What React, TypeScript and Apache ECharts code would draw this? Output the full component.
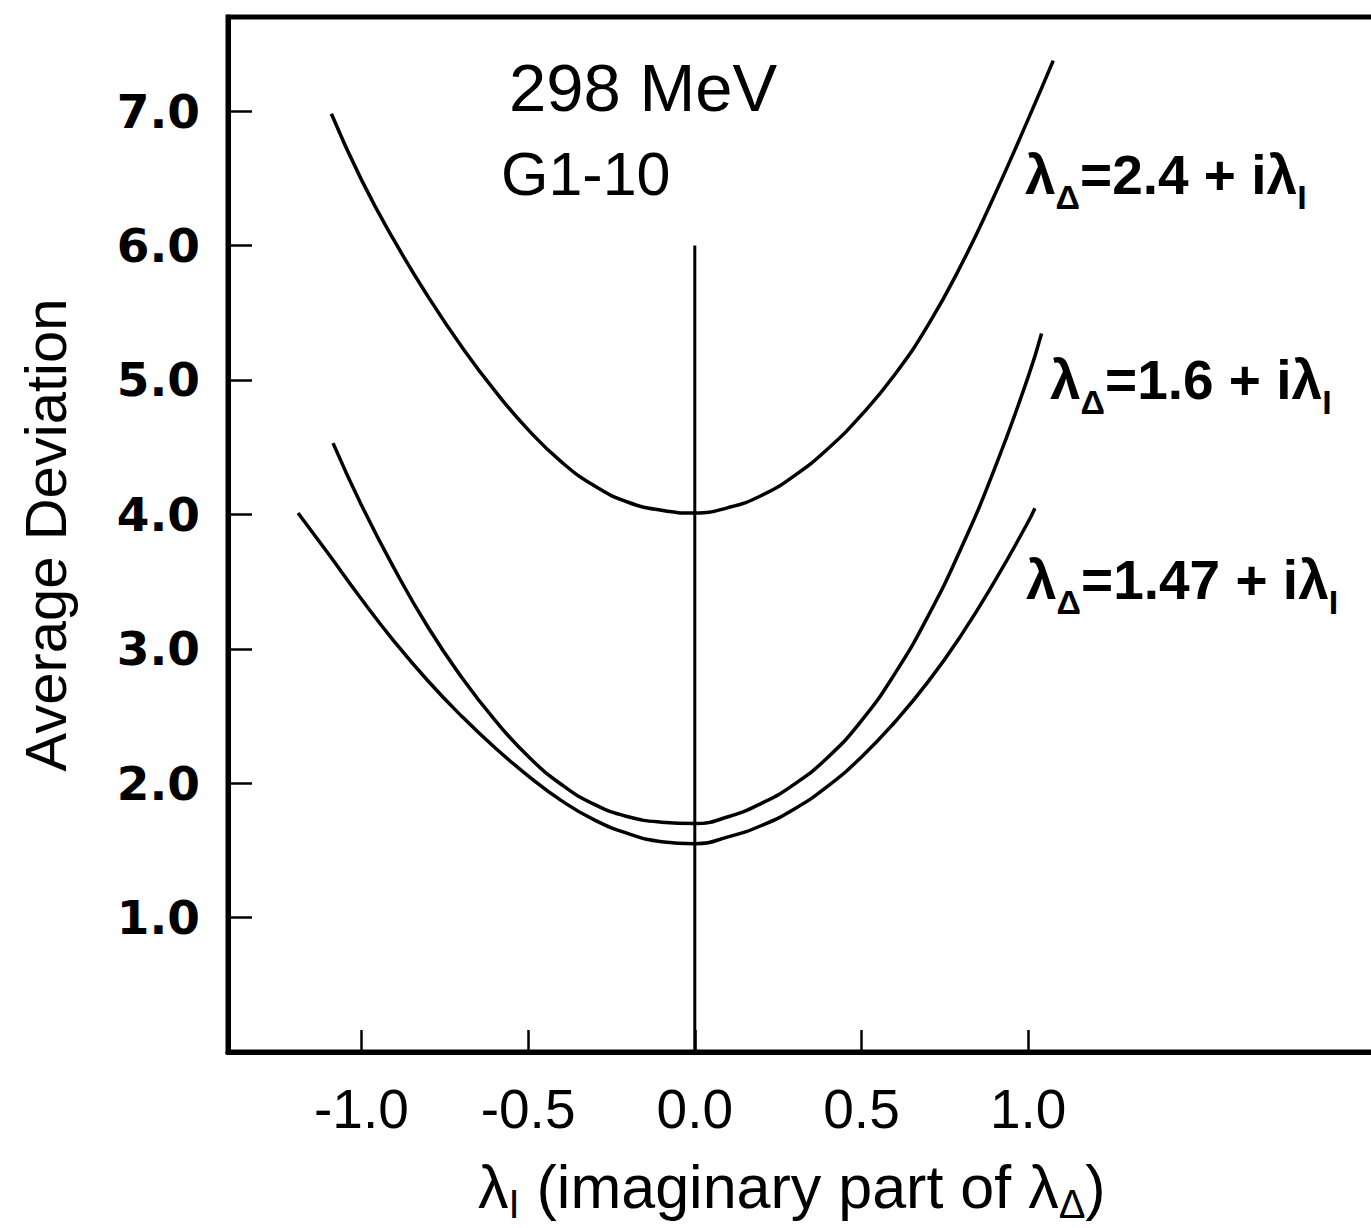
import React, { useEffect, useRef } from "react";
import * as echarts from "echarts";

// Tick values
const xTicks = [-1.0, -0.5, 0.0, 0.5, 1.0];
const yTicks = [1, 2, 3, 4, 5, 6, 7];

// λΔ = 2.4 + iλI
const lambdaI_24 = [-1.09, -1.0, -0.9, -0.8, -0.7, -0.6, -0.5, -0.4, -0.3, -0.2, -0.1, 0, 0.1, 0.2, 0.3, 0.4, 0.5, 0.6, 0.7, 0.8, 0.9, 1.0, 1.075];
const dev_24 = [6.98, 6.49, 6.03, 5.62, 5.25, 4.92, 4.63, 4.39, 4.21, 4.09, 4.03, 4.01, 4.05, 4.14, 4.29, 4.49, 4.74, 5.04, 5.41, 5.86, 6.38, 6.94, 7.375];

// λΔ = 1.6 + iλI
const lambdaI_16 = [-1.085, -1.0, -0.9, -0.8, -0.7, -0.6, -0.5, -0.4, -0.3, -0.2, -0.1, 0, 0.1, 0.2, 0.3, 0.4, 0.5, 0.6, 0.7, 0.8, 0.9, 1.0, 1.04];
const dev_16 = [4.53, 4.07, 3.59, 3.16, 2.79, 2.47, 2.2, 1.99, 1.84, 1.75, 1.71, 1.7, 1.75, 1.85, 1.995, 2.195, 2.465, 2.815, 3.245, 3.755, 4.345, 5.025, 5.345];

// λΔ = 1.47 + iλI
const lambdaI_147 = [-1.19, -1.1, -1.0, -0.9, -0.8, -0.7, -0.6, -0.5, -0.4, -0.3, -0.2, -0.1, 0, 0.1, 0.2, 0.3, 0.4, 0.5, 0.6, 0.7, 0.8, 0.9, 1.0, 1.02];
const dev_147 = [4.01, 3.71, 3.37, 3.05, 2.76, 2.5, 2.265, 2.055, 1.87, 1.725, 1.625, 1.565, 1.55, 1.6, 1.685, 1.81, 1.98, 2.195, 2.455, 2.755, 3.105, 3.505, 3.945, 4.045];

// vertical reference line at λI = 0
const zeroLineX = [0, 0];
const zeroLineY = [0, 6.0];

const pairs = (xs: number[], ys: number[]) => xs.map((x, i) => [x, ys[i]]);

const SANS = "'Liberation Sans', Arial, Helvetica, sans-serif";
const WIDE = "'DejaVu Sans', Verdana, sans-serif";

export default function App() {
  const ref = useRef<HTMLDivElement>(null);

  useEffect(() => {
    document.body.style.margin = "0";
    document.body.style.overflow = "hidden";
    const chart = echarts.init(ref.current!, null, { renderer: "svg" });

    const curveRich = {
      m: { fontSize: 55, fontWeight: "bold", fontFamily: SANS, color: "#000", lineHeight: 78, verticalAlign: "middle" },
      s: { fontSize: 34, fontWeight: "bold", fontFamily: SANS, color: "#000", lineHeight: 34, verticalAlign: "bottom" },
    };
    const curveLabel = (x: number, y: number, val: string) => ({
      type: "text",
      x,
      y,
      style: {
        text: `{m|λ}{s|Δ}{m|=${val} + iλ}{s|I}`,
        rich: curveRich,
        align: "left",
        verticalAlign: "top",
      },
    });

    const lineSeries = (name: string, xs: number[], ys: number[]) => ({
      name,
      type: "line",
      data: pairs(xs, ys),
      showSymbol: false,
      smooth: 0.5,
      lineStyle: { color: "#000", width: 3.5 },
      silent: true,
    });

    chart.setOption({
      animation: false,
      backgroundColor: "#fff",
      grid: {
        left: 228,
        top: 17,
        bottom: 176,
        right: 0,
        show: true,
        borderColor: "#000",
        borderWidth: 5,
        containLabel: false,
      },
      xAxis: {
        type: "value",
        min: -1.4,
        max: 2.1,
        splitLine: { show: false },
        axisLine: { show: true, onZero: false, lineStyle: { color: "#000", width: 5 } },
        axisTick: {
          show: true,
          inside: true,
          length: 22,
          customValues: xTicks,
          lineStyle: { color: "#000", width: 2.5 },
        },
        axisLabel: {
          show: true,
          customValues: xTicks,
          margin: 29,
          fontSize: 55,
          fontFamily: SANS,
          color: "#000",
          formatter: (v: number) => v.toFixed(1),
        },
      },
      yAxis: {
        type: "value",
        min: 0,
        max: 7.7,
        splitLine: { show: false },
        axisLine: { show: true, onZero: false, lineStyle: { color: "#000", width: 5 } },
        axisTick: {
          show: true,
          inside: true,
          length: 24,
          customValues: yTicks,
          lineStyle: { color: "#000", width: 2.5 },
        },
        axisLabel: {
          show: true,
          customValues: yTicks,
          margin: 28,
          fontSize: 47,
          fontWeight: "bold",
          fontFamily: WIDE,
          color: "#000",
          formatter: (v: number) => v.toFixed(1),
        },
      },
      series: [
        lineSeries("λΔ=2.4 + iλI", lambdaI_24, dev_24),
        lineSeries("λΔ=1.6 + iλI", lambdaI_16, dev_16),
        lineSeries("λΔ=1.47 + iλI", lambdaI_147, dev_147),
        {
          name: "λI = 0",
          type: "line",
          data: pairs(zeroLineX, zeroLineY),
          showSymbol: false,
          lineStyle: { color: "#000", width: 3 },
          silent: true,
        },
      ],
      graphic: [
        {
          type: "text",
          x: 509,
          y: 87,
          style: { text: "298 MeV", fontSize: 67, fontFamily: SANS, fill: "#000", align: "left", verticalAlign: "middle" },
        },
        {
          type: "text",
          x: 501,
          y: 174,
          style: { text: "G1-10", fontSize: 61, fontFamily: SANS, fill: "#000", align: "left", verticalAlign: "middle" },
        },
        curveLabel(1025, 136, "2.4"),
        curveLabel(1050, 341, "1.6"),
        curveLabel(1026, 541, "1.47"),
        {
          type: "text",
          x: 45,
          y: 535,
          rotation: Math.PI / 2,
          style: { text: "Average Deviation", fontSize: 58, fontFamily: SANS, fill: "#000", align: "center", verticalAlign: "middle" },
        },
        {
          type: "text",
          x: 478,
          y: 1150,
          style: {
            text: "{m|λ}{s|I}{m| (imaginary part of λ}{s|Δ}{m|)}",
            align: "left",
            verticalAlign: "top",
            rich: {
              m: { fontSize: 61, fontFamily: SANS, color: "#000", lineHeight: 74, verticalAlign: "middle" },
              s: { fontSize: 40, fontFamily: SANS, color: "#000", lineHeight: 40, verticalAlign: "bottom" },
            },
          },
        },
      ],
    });

    return () => chart.dispose();
  }, []);

  return (
    <div style={{ width: 1371, height: 1228, overflow: "hidden", background: "#fff" }}>
      <div ref={ref} style={{ width: 1395, height: 1228 }} />
    </div>
  );
}
